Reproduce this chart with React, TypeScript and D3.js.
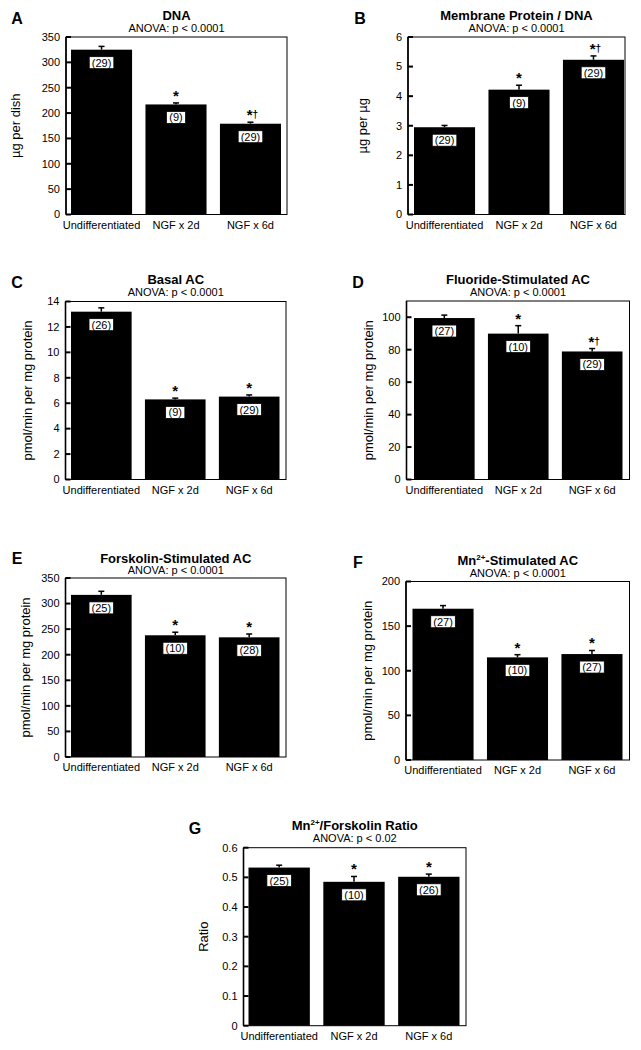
import React from "react";
import * as d3 from "d3";

const groups = ["Undifferentiated", "NGF x 2d", "NGF x 6d"];

// A: DNA
const dnaMeans = [325, 217, 179];
const dnaErr = [6.5, 3, 3];
const dnaN = [29, 9, 29];
const dnaSig = ["", "*", "*†"];
const dnaTicks = [0, 50, 100, 150, 200, 250, 300, 350];

// B: Membrane Protein / DNA
const memMeans = [2.95, 4.22, 5.23];
const memErr = [0.06, 0.15, 0.13];
const memN = [29, 9, 29];
const memSig = ["", "*", "*†"];
const memTicks = [0, 1, 2, 3, 4, 5, 6];

// C: Basal AC
const basalMeans = [13.2, 6.3, 6.52];
const basalErr = [0.3, 0.1, 0.13];
const basalN = [26, 9, 29];
const basalSig = ["", "*", "*"];
const basalTicks = [0, 2, 4, 6, 8, 10, 12, 14];

// D: Fluoride-Stimulated AC
const fluMeans = [99.5, 89.9, 78.9];
const fluErr = [1.8, 4.9, 1.8];
const fluN = [27, 10, 29];
const fluSig = ["", "*", "*†"];
const fluTicks = [0, 20, 40, 60, 80, 100];

// E: Forskolin-Stimulated AC
const forMeans = [317, 238, 234];
const forErr = [7, 6, 6.5];
const forN = [25, 10, 28];
const forSig = ["", "*", "*"];
const forTicks = [0, 50, 100, 150, 200, 250, 300, 350];

// F: Mn2+-Stimulated AC
const mnMeans = [169.5, 115, 118.7];
const mnErr = [3.5, 3, 4];
const mnN = [27, 10, 27];
const mnSig = ["", "*", "*"];
const mnTicks = [0, 50, 100, 150, 200];

// G: Mn2+/Forskolin Ratio
const ratioMeans = [0.533, 0.485, 0.502];
const ratioErr = [0.008, 0.018, 0.009];
const ratioN = [25, 10, 26];
const ratioSig = ["", "*", "*"];
const ratioTicks = [0, 0.1, 0.2, 0.3, 0.4, 0.5, 0.6];

const FONT = "'Liberation Sans', Arial, Helvetica, sans-serif";

type Panel = {
  letter: string;
  title: React.ReactNode;
  anova: string;
  ylabel: string;
  means: number[];
  err: number[];
  n: number[];
  sig: string[];
  ticks: number[];
  ymax: number;
  fmt: (v: number) => string;
  fx0: number; fx1: number; fy0: number; fy1: number;
  bx0: number; bx1: number;
  letterX: number; letterY: number;
  titleY: number; anovaY: number;
  ylabelX: number;
};

const intFmt = (v: number) => String(v);
const decFmt = (v: number) => (v === 0 ? "0" : d3.format(".1f")(v));

const panels: Panel[] = [
  {
    letter: "A", title: "DNA", anova: "ANOVA: p < 0.0001", ylabel: "µg per dish",
    means: dnaMeans, err: dnaErr, n: dnaN, sig: dnaSig, ticks: dnaTicks, ymax: 350, fmt: intFmt,
    fx0: 66, fx1: 287, fy0: 37, fy1: 214.5, bx0: 71, bx1: 281,
    letterX: 17, letterY: 24, titleY: 20, anovaY: 32, ylabelX: 15,
  },
  {
    letter: "B", title: "Membrane Protein / DNA", anova: "ANOVA: p < 0.0001", ylabel: "µg per µg",
    means: memMeans, err: memErr, n: memN, sig: memSig, ticks: memTicks, ymax: 6, fmt: intFmt,
    fx0: 408, fx1: 625, fy0: 37, fy1: 214.5, bx0: 414, bx1: 624,
    letterX: 360, letterY: 24, titleY: 20, anovaY: 32, ylabelX: 362,
  },
  {
    letter: "C", title: "Basal AC", anova: "ANOVA: p < 0.0001", ylabel: "pmol/min per mg protein",
    means: basalMeans, err: basalErr, n: basalN, sig: basalSig, ticks: basalTicks, ymax: 14, fmt: intFmt,
    fx0: 65.5, fx1: 286, fy0: 301.5, fy1: 479.5, bx0: 71, bx1: 279.5,
    letterX: 17, letterY: 288, titleY: 284, anovaY: 296, ylabelX: 27,
  },
  {
    letter: "D", title: "Fluoride-Stimulated AC", anova: "ANOVA: p < 0.0001", ylabel: "pmol/min per mg protein",
    means: fluMeans, err: fluErr, n: fluN, sig: fluSig, ticks: fluTicks, ymax: 110, fmt: intFmt,
    fx0: 406.5, fx1: 629.5, fy0: 301, fy1: 479.5, bx0: 414, bx1: 622.5,
    letterX: 358, letterY: 288, titleY: 284, anovaY: 296, ylabelX: 368,
  },
  {
    letter: "E", title: "Forskolin-Stimulated AC", anova: "ANOVA: p < 0.0001", ylabel: "pmol/min per mg protein",
    means: forMeans, err: forErr, n: forN, sig: forSig, ticks: forTicks, ymax: 350, fmt: intFmt,
    fx0: 65.5, fx1: 286, fy0: 578, fy1: 757, bx0: 71, bx1: 279.5,
    letterX: 17, letterY: 564, titleY: 563, anovaY: 574, ylabelX: 25,
  },
  {
    letter: "F", title: (<>Mn<tspan fontSize={8} dy={-5}>2+</tspan><tspan dy={5}>-Stimulated AC</tspan></>),
    anova: "ANOVA: p < 0.0001", ylabel: "pmol/min per mg protein",
    means: mnMeans, err: mnErr, n: mnN, sig: mnSig, ticks: mnTicks, ymax: 200, fmt: intFmt,
    fx0: 406, fx1: 629.5, fy0: 581.5, fy1: 760, bx0: 412.5, bx1: 622.5,
    letterX: 358, letterY: 567.5, titleY: 564.5, anovaY: 576.5, ylabelX: 367,
  },
  {
    letter: "G", title: (<>Mn<tspan fontSize={8} dy={-5}>2+</tspan><tspan dy={5}>/Forskolin Ratio</tspan></>),
    anova: "ANOVA: p < 0.02", ylabel: "Ratio",
    means: ratioMeans, err: ratioErr, n: ratioN, sig: ratioSig, ticks: ratioTicks, ymax: 0.6, fmt: decFmt,
    fx0: 243.5, fx1: 466, fy0: 847.7, fy1: 1025.7, bx0: 248.5, bx1: 459.5,
    letterX: 195, letterY: 834, titleY: 829.5, anovaY: 841.5, ylabelX: 203,
  },
];

function PanelChart({ p }: { p: Panel }) {
  const x = d3.scaleBand<string>().domain(groups).range([p.bx0, p.bx1]).paddingInner(0.18).paddingOuter(0);
  const y = d3.scaleLinear().domain([0, p.ymax]).range([p.fy1, p.fy0]);
  const cx = (p.fx0 + p.fx1) / 2;
  const cy = (p.fy0 + p.fy1) / 2;
  return (
    <g fontFamily={FONT} fill="#000">
      <text x={p.letterX} y={p.letterY} fontSize={16} fontWeight="bold" textAnchor="middle">{p.letter}</text>
      <text x={cx} y={p.titleY} fontSize={13} fontWeight="bold" textAnchor="middle">{p.title}</text>
      <text x={cx} y={p.anovaY} fontSize={11} textAnchor="middle">{p.anova}</text>
      <text
        transform={`translate(${p.ylabelX},${cy}) rotate(-90)`}
        fontSize={13}
        textAnchor="middle"
        dominantBaseline="central"
      >{p.ylabel}</text>
      {groups.map((g, i) => {
        const bx = x(g)!;
        const bw = x.bandwidth();
        const top = y(p.means[i]);
        const et = y(p.means[i] + p.err[i]);
        const mid = bx + bw / 2;
        const label = `(${p.n[i]})`;
        const boxW = label.length * 5.4 + 3;
        const by = top + 13;
        const hasDagger = p.sig[i].includes("†");
        return (
          <g key={g}>
            <rect x={bx} y={top} width={bw} height={p.fy1 - top} fill="#000" />
            <line x1={mid} x2={mid} y1={top} y2={et} stroke="#000" strokeWidth={1.5} />
            <line x1={mid - 3} x2={mid + 3} y1={et} y2={et} stroke="#000" strokeWidth={1.5} />
            <rect x={mid - boxW / 2} y={by - 6} width={boxW} height={12} fill="#fff" stroke="#000" strokeWidth={0.8} />
            <text x={mid} y={by + 4} fontSize={11} textAnchor="middle">{label}</text>
            {p.sig[i] && (
              <text x={mid + (hasDagger ? 2 : 0)} y={et - 2} fontSize={15} fontWeight="bold" textAnchor="middle">
                {p.sig[i].replace("†", "")}
                {hasDagger && <tspan fontSize={10} dy={-2}>†</tspan>}
              </text>
            )}
            <text x={mid} y={p.fy1 + 14} fontSize={11} textAnchor="middle">{g}</text>
          </g>
        );
      })}
      <rect x={p.fx0} y={p.fy0} width={p.fx1 - p.fx0} height={p.fy1 - p.fy0} fill="none" stroke="#000" strokeWidth={1} />
      <line x1={p.fx0} x2={p.fx0} y1={p.fy0} y2={p.fy1} stroke="#000" strokeWidth={1.6} />
      {p.ticks.map((t) => (
        <g key={t}>
          <line x1={p.fx0} x2={p.fx0 + 5} y1={y(t)} y2={y(t)} stroke="#000" strokeWidth={2} />
          <text x={p.fx0 - 6} y={y(t)} dy="0.35em" fontSize={11} textAnchor="end">{p.fmt(t)}</text>
        </g>
      ))}
    </g>
  );
}

export default function App() {
  return (
    <svg
      width={641}
      height={1050}
      viewBox="0 0 641 1050"
      style={{ position: "absolute", left: 0, top: 0, background: "#fff" }}
    >
      <rect x={0} y={0} width={641} height={1050} fill="#fff" />
      {panels.map((p) => (
        <PanelChart key={p.letter} p={p} />
      ))}
    </svg>
  );
}
